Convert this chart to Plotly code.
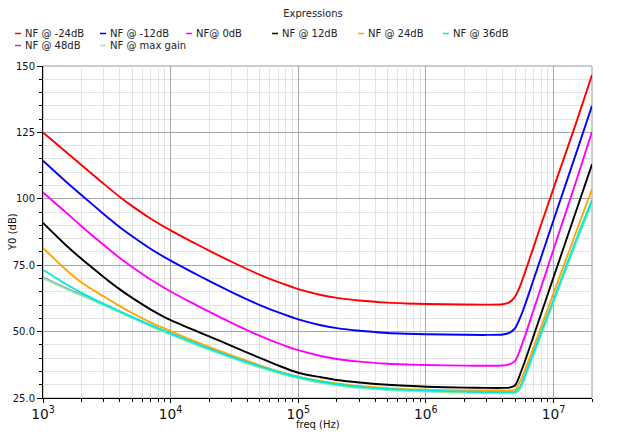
import plotly.graph_objects as go

# ---------------- data ----------------
freq = [1e3, 1.5e3, 2e3, 3e3, 4e3, 5e3, 7e3, 1e4, 1.5e4, 2e4, 3e4, 5e4, 7e4, 1e5, 1.5e5, 2e5,
        3e5, 5e5, 7e5, 1e6, 2e6, 3e6, 4e6, 4.5e6, 5e6, 5.5e6, 6e6, 7e6, 8e6, 1e7, 1.5e7, 2e7]

nf_m24 = [125.0, 117.8, 112.7, 105.6, 100.7, 97.25, 92.5, 88.1, 83.6, 80.5, 76.3, 71.4, 68.6, 66.0, 63.8, 62.7,
          61.7, 60.9, 60.6, 60.4, 60.2, 60.15, 60.3, 61.0, 63.2, 67.5, 72.6, 82.1, 90.4, 104.0, 128.5, 146.6]
nf_m12 = [114.3, 106.6, 101.4, 94.2, 89.3, 85.9, 81.1, 76.7, 72.2, 69.1, 64.9, 60.0, 57.2, 54.6, 52.4, 51.3,
          50.3, 49.5, 49.2, 49.0, 48.8, 48.75, 48.9, 49.5, 51.3, 55.5, 60.3, 69.8, 78.1, 92.0, 117.0, 135.0]
nf_0 = [102.4, 95.0, 89.7, 82.6, 77.7, 74.3, 69.5, 65.1, 60.6, 57.5, 53.3, 48.4, 45.6, 43.0, 40.8, 39.7,
        38.7, 37.9, 37.6, 37.4, 37.2, 37.15, 37.25, 37.7, 39.0, 43.6, 48.6, 58.4, 66.8, 81.0, 106.5, 125.2]
nf_12 = [90.9, 82.7, 77.4, 70.5, 65.9, 62.7, 58.3, 54.3, 50.7, 48.2, 44.6, 40.1, 37.2, 34.5, 32.8, 31.8,
         30.85, 30.0, 29.6, 29.25, 28.9, 28.8, 28.8, 28.9, 29.8, 34.3, 39.2, 48.6, 56.8, 70.5, 95.3, 113.0]
nf_24 = [81.5, 73.5, 68.5, 63.2, 59.6, 57.0, 53.4, 50.2, 46.6, 44.2, 41.0, 37.3, 35.0, 33.0, 31.4, 30.5,
         29.5, 28.7, 28.35, 28.1, 27.85, 27.8, 27.8, 27.8, 28.2, 31.5, 35.8, 44.3, 51.9, 64.5, 87.4, 103.6]
nf_36 = [73.3, 68.0, 64.6, 60.4, 57.6, 55.5, 52.4, 49.3, 45.9, 43.6, 40.5, 36.9, 34.8, 32.9, 31.1, 30.2,
         29.2, 28.4, 28.1, 27.8, 27.4, 27.25, 27.2, 27.2, 27.3, 29.4, 33.9, 42.3, 49.7, 62.0, 84.5, 99.5]
nf_48 = [70.3, 66.4, 63.8, 60.1, 57.4, 55.3, 52.2, 49.1, 45.7, 43.4, 40.3, 36.7, 34.6, 32.7, 30.9, 30.0,
         29.0, 28.2, 27.9, 27.6, 27.2, 27.05, 27.0, 27.0, 27.05, 29.0, 33.4, 41.9, 49.3, 61.5, 83.8, 99.0]
nf_max = [70.1, 66.2, 63.6, 59.9, 57.2, 55.1, 52.0, 48.9, 45.5, 43.2, 40.1, 36.5, 34.4, 32.5, 30.7, 29.8,
          28.8, 28.0, 27.7, 27.4, 27.0, 26.85, 26.8, 26.8, 26.85, 28.6, 33.0, 41.4, 48.8, 61.0, 83.2, 98.3]

series_names = ["NF @ -24dB", "NF @ -12dB", "NF@ 0dB", "NF @ 12dB",
                "NF @ 24dB", "NF @ 36dB", "NF @ 48dB", "NF @ max gain"]
series_vals = [nf_m24, nf_m12, nf_0, nf_12, nf_24, nf_36, nf_48, nf_max]
series_colors = ["#ff0000", "#0000ff", "#ff00ff", "#000000",
                 "#ffa500", "#00e8e8", "#9a4a9a", "#8af0a8"]

y_tickvals = [25, 50, 75, 100, 125, 150]
y_ticktext = ["25.0", "50.0", "75.0", "100", "125", "150"]

x_title = "freq (Hz)"
y_title = "Y0 (dB)"

# ---------------- layout geometry ----------------
W, H = 626, 432
L, R, T, B = 43, 34, 66, 34
PW, PH = W - L - R, H - T - B
FONT = "DejaVu Sans"

def px_x(px):
    return (px - L) / PW

def px_y(py):
    return (H - B - py) / PH

fig = go.Figure()

# draw order: the low cluster first so cyan ends up visible on top
draw_order = [6, 7, 0, 1, 2, 3, 4, 5]
for i in draw_order:
    fig.add_trace(go.Scatter(
        x=freq, y=series_vals[i], name=series_names[i], mode="lines",
        line=dict(color=series_colors[i], width=1.9, shape="spline", smoothing=0.8),
        showlegend=False, hoverinfo="skip"))

# manual legend (short colour dash + text)
leg_px = [15, 100, 186, 272, 358, 443, 15, 100]
leg_py = [33.5] * 6 + [45.5] * 2
shapes = []
annotations = []
for i, name in enumerate(series_names):
    x0 = leg_px[i]
    y0 = leg_py[i]
    shapes.append(dict(type="line", xref="paper", yref="paper",
                       x0=px_x(x0), x1=px_x(x0 + 6), y0=px_y(y0), y1=px_y(y0),
                       line=dict(color=series_colors[i], width=1.5)))
    annotations.append(dict(xref="paper", yref="paper", x=px_x(x0 + 8), y=px_y(y0),
                            xanchor="left", yanchor="middle", showarrow=False,
                            text=name, font=dict(family=FONT, size=10, color="#222222")))

# axis titles placed as in the reference
annotations.append(dict(xref="paper", yref="paper", x=px_x(318), y=px_y(425),
                        xanchor="center", yanchor="middle", showarrow=False,
                        text=x_title, font=dict(family=FONT, size=10, color="#111111")))
annotations.append(dict(xref="paper", yref="paper", x=px_x(12), y=px_y(232),
                        xanchor="center", yanchor="middle", showarrow=False, textangle=-90,
                        text=y_title, font=dict(family=FONT, size=10, color="#111111")))

# frame (grey top/right border)
shapes.append(dict(type="rect", xref="paper", yref="paper", x0=0, x1=1, y0=0, y1=1,
                   line=dict(color="#9a9a9a", width=1), layer="below"))

fig.update_layout(
    template="none",
    width=W, height=H,
    margin=dict(l=L, r=R, t=T, b=B, pad=0),
    paper_bgcolor="white", plot_bgcolor="white",
    font=dict(family=FONT, size=10, color="#111111"),
    title=dict(text="Expressions", x=0.5, xref="container", xanchor="center",
               y=1 - 13 / H, yref="container", yanchor="middle",
               font=dict(family=FONT, size=10, color="#222222")),
    showlegend=False,
    shapes=shapes,
    annotations=annotations,
)

fig.update_xaxes(
    type="log", range=[3, 7.30103], dtick=1, exponentformat="power",
    showgrid=True, gridcolor="#a8a8a8", gridwidth=1,
    minor=dict(dtick="D1", showgrid=True, gridcolor="#e3e3e3", ticks="outside",
               ticklen=3, tickcolor="#000000"),
    ticks="outside", ticklen=4, tickcolor="#000000",
    showline=True, linecolor="#000000", linewidth=1, zeroline=False,
    automargin=False,
    tickfont=dict(family=FONT, size=11, color="#111111"),
)

fig.update_yaxes(
    range=[25, 150], tickvals=y_tickvals, ticktext=y_ticktext,
    showgrid=True, gridcolor="#a8a8a8", gridwidth=1,
    minor=dict(dtick=5, showgrid=True, gridcolor="#e3e3e3", ticks="outside",
               ticklen=3, tickcolor="#000000"),
    ticks="outside", ticklen=5, tickcolor="#000000",
    showline=True, linecolor="#000000", linewidth=1, zeroline=False,
    automargin=False,
    tickfont=dict(family=FONT, size=10, color="#111111"),
)

fig.write_html("out.html")
